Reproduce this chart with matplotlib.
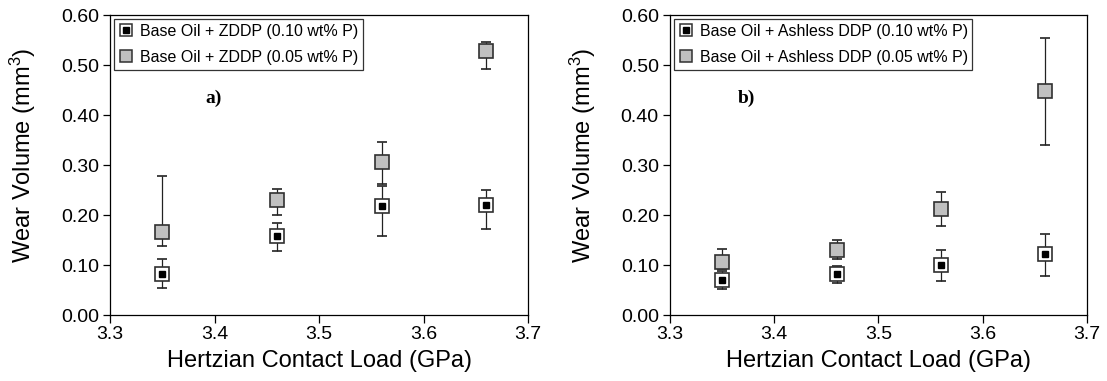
"""
wear_volume.py
Wear volume vs Hertzian contact load for ZDDP and ashless DDP blends.
"""

import matplotlib
matplotlib.use("Agg")
import matplotlib.pyplot as plt
from matplotlib.lines import Line2D

plt.rcParams["font.family"] = ["Liberation Sans", "DejaVu Sans"]
plt.rcParams["mathtext.fontset"] = "custom"
plt.rcParams["mathtext.rm"] = "Liberation Sans"
plt.rcParams["mathtext.it"] = "Liberation Sans:italic"

# Hertzian contact load (GPa)
LOAD = [3.35, 3.46, 3.56, 3.66]

# a) ZDDP
ZDDP_010    = [0.082, 0.159, 0.219, 0.221]
ZDDP_010_LO = [0.055, 0.129, 0.159, 0.173]
ZDDP_010_HI = [0.113, 0.185, 0.258, 0.250]
ZDDP_005    = [0.167, 0.230, 0.307, 0.529]
ZDDP_005_LO = [0.138, 0.200, 0.262, 0.493]
ZDDP_005_HI = [0.279, 0.252, 0.347, 0.547]

# b) Ashless DDP
DDP_010    = [0.070, 0.082, 0.100, 0.122]
DDP_010_LO = [0.053, 0.065, 0.068, 0.078]
DDP_010_HI = [0.088, 0.098, 0.130, 0.163]
DDP_005    = [0.107, 0.131, 0.213, 0.448]
DDP_005_LO = [0.092, 0.113, 0.178, 0.340]
DDP_005_HI = [0.133, 0.151, 0.247, 0.555]

X_TICKS = [3.3, 3.4, 3.5, 3.6, 3.7]
Y_TICKS = [0.0, 0.1, 0.2, 0.3, 0.4, 0.5, 0.6]

GRAY = "#c0c0c0"
EDGE = "#303030"
MS   = 10.0


def draw_series(ax, y, lo, hi, filled):
    yerr = [[v - l for v, l in zip(y, lo)], [h - v for v, h in zip(y, hi)]]
    face = GRAY if filled else "white"
    ax.errorbar(LOAD, y, yerr=yerr, fmt="s", ms=MS, mfc=face, mec=EDGE,
                mew=1.2, ecolor="#222222", elinewidth=0.9, capsize=3.4,
                capthick=0.9, zorder=3)
    if not filled:
        ax.plot(LOAD, y, "s", ms=4.2, color="black", zorder=4)


def panel(ax, s1, s2, labels, tag, tag_x):
    draw_series(ax, *s1, filled=False)
    draw_series(ax, *s2, filled=True)

    ax.set_xlim(3.3, 3.7)
    ax.set_ylim(0.0, 0.6)
    ax.set_xticks(X_TICKS)
    ax.set_xticklabels([f"{v:.1f}" for v in X_TICKS])
    ax.set_yticks(Y_TICKS)
    ax.set_yticklabels([f"{v:.2f}" for v in Y_TICKS])
    ax.tick_params(axis="x", direction="out", length=6, width=0.9,
                   labelsize=14, pad=2)
    ax.tick_params(axis="y", direction="out", length=5, width=0.9,
                   labelsize=14, pad=3)
    for sp in ax.spines.values():
        sp.set_linewidth(0.9)

    ax.set_xlabel("Hertzian Contact Load (GPa)", fontsize=17, labelpad=5)
    ax.set_ylabel("Wear Volume (mm$^3$)", fontsize=17)
    ax.yaxis.set_label_coords(-0.172, 0.533)

    h1 = (Line2D([], [], ls="none", marker="s", ms=9, mfc="white",
                 mec=EDGE, mew=1.1),
          Line2D([], [], ls="none", marker="s", ms=4, color="black"))
    h2 = Line2D([], [], ls="none", marker="s", ms=9, mfc=GRAY,
                mec=EDGE, mew=1.1)
    leg = ax.legend([h1, h2], labels, loc="upper left", fontsize=11.5,
                    frameon=True, fancybox=False, borderaxespad=0.25,
                    handlelength=0.9, handletextpad=0.4, borderpad=0.3,
                    labelspacing=0.7)
    leg.get_frame().set_edgecolor("black")
    leg.get_frame().set_linewidth(0.9)

    ax.text(tag_x, 0.434, tag, fontsize=14, fontweight="bold",
            family="Liberation Serif", ha="center", va="center")


fig = plt.figure(figsize=(11.07, 3.81), dpi=100)
ax1 = fig.add_axes([0.0994, 0.1732, 0.3776, 0.7874])
ax2 = fig.add_axes([0.6052, 0.1732, 0.3767, 0.7874])

panel(ax1,
      (ZDDP_010, ZDDP_010_LO, ZDDP_010_HI),
      (ZDDP_005, ZDDP_005_LO, ZDDP_005_HI),
      ["Base Oil + ZDDP (0.10 wt% P)", "Base Oil + ZDDP (0.05 wt% P)"],
      "a)", 3.399)
panel(ax2,
      (DDP_010, DDP_010_LO, DDP_010_HI),
      (DDP_005, DDP_005_LO, DDP_005_HI),
      ["Base Oil + Ashless DDP (0.10 wt% P)",
       "Base Oil + Ashless DDP (0.05 wt% P)"],
      "b)", 3.373)

fig.savefig("out.png", dpi=100, facecolor="white")
